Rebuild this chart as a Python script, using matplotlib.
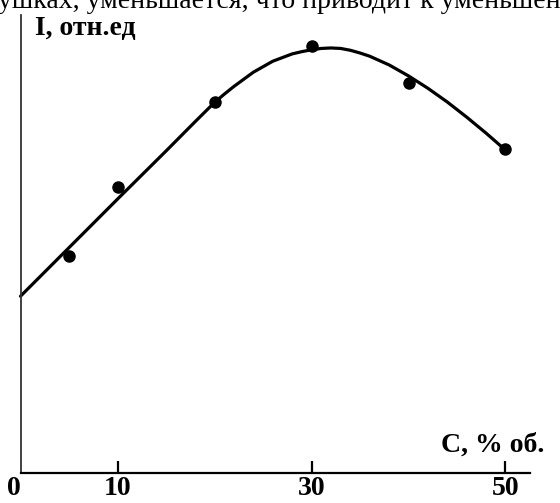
import matplotlib
matplotlib.use("Agg")
import matplotlib.pyplot as plt

# measured points
conc = [5, 10, 20, 30, 40, 50]
intensity = [4.74, 6.24, 8.10, 9.32, 8.52, 7.07]

# smooth curve
curve_x = [0, 5, 10, 15, 18, 20, 21, 22, 24, 26, 28, 29, 30, 31, 32, 33, 34, 35, 36,
           38, 40, 42, 44, 46, 48, 50]
curve_y = [3.86, 4.92, 5.98, 7.03, 7.67, 8.09, 8.27, 8.44, 8.75, 8.99, 9.15, 9.20,
           9.24, 9.27, 9.28, 9.27, 9.23, 9.17, 9.10, 8.91, 8.67, 8.40, 8.10, 7.77,
           7.42, 7.05]

tick_vals = [0, 10, 30, 50]
tick_labels = ["0", "10", "30", "50"]

ylabel = "I, отн.ед"
xlabel = "C, % об."
top_text = "ушках, уменьшается, что приводит к уменьшению"

W, H = 560, 503
fig = plt.figure(figsize=(W / 100, H / 100), dpi=100)
fig.patch.set_facecolor("white")

left_px, right_px, top_px, bottom_px = 20.5, 545, 15, 473
ax = fig.add_axes([left_px / W, (H - bottom_px) / H,
                   (right_px - left_px) / W, (bottom_px - top_px) / H])
ax.set_xlim(0, (right_px - left_px) / 9.7)
ax.set_ylim(0, 10)

ax.plot(curve_x, curve_y, color="black", lw=2.3, solid_joinstyle="round",
        solid_capstyle="round", clip_on=False)
ax.plot(conc, intensity, "o", color="black", ms=8, clip_on=False)

for s in ["top", "right"]:
    ax.spines[s].set_visible(False)
ax.spines["left"].set_linewidth(1.3)
ax.spines["left"].set_color("#333333")
ax.spines["bottom"].set_linewidth(1.6)
ax.spines["bottom"].set_bounds(0, (530 - left_px) / 9.7)

ax.set_yticks([])
ax.set_xticks(tick_vals)
ax.set_xticklabels(tick_labels)
ax.tick_params(axis="x", direction="in", length=9, width=1.6, pad=2,
               labelsize=20)
for lab in ax.get_xticklabels():
    lab.set_fontfamily("Liberation Serif")
    lab.set_fontweight("bold")
ticks = ax.xaxis.get_major_ticks()
ticks[0].tick1line.set_visible(False)
ticks[0].label1.set_horizontalalignment("right")

fig.text(35 / W, 1 - 35 / H, ylabel, fontsize=20, fontweight="bold",
         family="Liberation Serif", va="baseline", ha="left")
fig.text(441 / W, 1 - 452 / H, xlabel, fontsize=20, fontweight="bold",
         family="Liberation Serif", va="baseline", ha="left")
fig.text(-2 / W, 1 - 8 / H, top_text, fontsize=20,
         family="Liberation Serif", va="baseline", ha="left")

fig.savefig("out.png", dpi=100, facecolor="white")
